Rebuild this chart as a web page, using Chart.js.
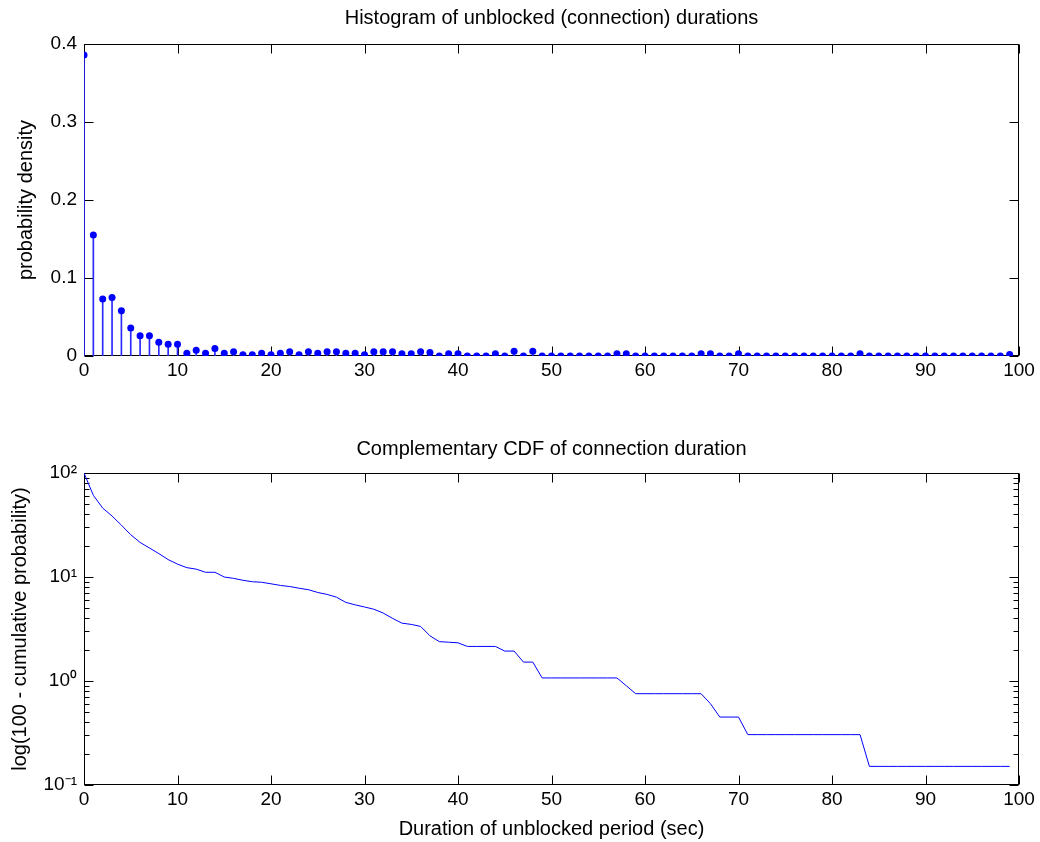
<!DOCTYPE html>
<html>
<head>
<meta charset="utf-8">
<title>Unblocked durations</title>
<script src="https://cdn.jsdelivr.net/npm/chart.js@4.4.0/dist/chart.umd.min.js"></script>
<style>
  body { margin: 0; background: #fff; }
  #wrap { position: relative; width: 1040px; height: 842px; }
  #histChart { position: absolute; left: 0; top: 0; }
  #ccdfChart { position: absolute; left: 0; top: 420px; }
</style>
</head>
<body>
<div id="wrap">
  <canvas id="histChart" width="1040" height="420"></canvas>
  <canvas id="ccdfChart" width="1040" height="422"></canvas>
</div>
<script>
// duration bins (sec)
const durations = [
  0, 1, 2, 3, 4, 5, 6, 7, 8, 9, 10, 11, 12, 13, 14, 15, 16, 17, 18, 19,
  20, 21, 22, 23, 24, 25, 26, 27, 28, 29, 30, 31, 32, 33, 34, 35, 36, 37, 38, 39,
  40, 41, 42, 43, 44, 45, 46, 47, 48, 49, 50, 51, 52, 53, 54, 55, 56, 57, 58, 59,
  60, 61, 62, 63, 64, 65, 66, 67, 68, 69, 70, 71, 72, 73, 74, 75, 76, 77, 78, 79,
  80, 81, 82, 83, 84, 85, 86, 87, 88, 89, 90, 91, 92, 93, 94, 95, 96, 97, 98, 99
];

// probability density per bin
const density = [
  0.386, 0.155, 0.073, 0.075, 0.058, 0.036, 0.026, 0.026, 0.0175, 0.015,
  0.015, 0.0035, 0.0075, 0.0035, 0.0095, 0.0035, 0.0055, 0.0015, 0.0015, 0.0035,
  0.0015, 0.0035, 0.0055, 0.0015, 0.0055, 0.0035, 0.0055, 0.0055, 0.0035, 0.0035,
  0.0015, 0.0055, 0.0055, 0.0055, 0.003, 0.003, 0.0055, 0.0045, 0, 0.003,
  0.003, 0, 0, 0, 0.003, 0, 0.006, 0, 0.006, 0,
  0, 0, 0, 0, 0, 0, 0, 0.003, 0.003, 0,
  0, 0, 0, 0, 0, 0, 0.003, 0.003, 0, 0,
  0.003, 0, 0, 0, 0, 0, 0, 0, 0, 0,
  0, 0, 0, 0.003, 0, 0, 0, 0, 0, 0,
  0, 0, 0, 0, 0, 0, 0, 0, 0, 0.002
];

// 100 - cumulative probability (%)
const ccdf = [
  100, 61, 46, 38.6, 31.5, 25.5, 21.5, 19, 16.8, 14.7,
  13.3, 12.3, 11.9, 11.1, 11.1, 10, 9.7, 9.3, 9.0, 8.9,
  8.6, 8.3, 8.1, 7.8, 7.55, 7.1, 6.8, 6.4, 5.7, 5.4,
  5.15, 4.9, 4.5, 4.0, 3.6, 3.5, 3.35, 2.72, 2.39, 2.36,
  2.33, 2.15, 2.15, 2.15, 2.15, 1.94, 1.94, 1.52, 1.52, 1.07,
  1.07, 1.07, 1.07, 1.07, 1.07, 1.07, 1.07, 1.07, 0.9, 0.755,
  0.755, 0.755, 0.755, 0.755, 0.755, 0.755, 0.755, 0.605, 0.45, 0.45,
  0.45, 0.305, 0.305, 0.305, 0.305, 0.305, 0.305, 0.305, 0.305, 0.305,
  0.305, 0.305, 0.305, 0.305, 0.151, 0.151, 0.151, 0.151, 0.151, 0.151,
  0.151, 0.151, 0.151, 0.151, 0.151, 0.151, 0.151, 0.151, 0.151, 0.151
];

const xTicks = [0, 10, 20, 30, 40, 50, 60, 70, 80, 90, 100];
const histYTicks = [0, 0.1, 0.2, 0.3, 0.4];
const logMajor = [0.1, 1, 10, 100];
const logMinor = [0.2, 0.3, 0.4, 0.5, 0.6, 0.7, 0.8, 0.9, 2, 3, 4, 5, 6, 7, 8, 9, 20, 30, 40, 50, 60, 70, 80, 90];
const logLabels = { 0.1: '10\u207B\u00B9', 1: '10\u2070', 10: '10\u00B9', 100: '10\u00B2' };

Chart.defaults.font.family = '"Liberation Sans", Arial, sans-serif';
Chart.defaults.color = '#000';

// matlab-like box with inward ticks
const matlabBox = {
  id: 'matlabBox',
  beforeDatasetsDraw(chart) {
    const { ctx, chartArea: a, scales } = chart;
    const L = Math.round(a.left) + 0.5, R = Math.round(a.right) - 0.5;
    const T = Math.round(a.top) + 0.5, B = Math.round(a.bottom) - 0.5;
    ctx.save();
    ctx.strokeStyle = '#000';
    ctx.lineWidth = 1;
    ctx.strokeRect(L, T, R - L, B - T);
    ctx.beginPath();
    xTicks.forEach(v => {
      const x = Math.round(scales.x.getPixelForValue(v)) + 0.5;
      ctx.moveTo(x, B); ctx.lineTo(x, B - 9);
      ctx.moveTo(x, T); ctx.lineTo(x, T + 9);
    });
    const yMajor = scales.y.type === 'logarithmic' ? logMajor : histYTicks;
    yMajor.forEach(v => {
      const y = Math.round(scales.y.getPixelForValue(v)) + 0.5;
      ctx.moveTo(L, y); ctx.lineTo(L + 9, y);
      ctx.moveTo(R, y); ctx.lineTo(R - 9, y);
    });
    if (scales.y.type === 'logarithmic') {
      logMinor.forEach(v => {
        const y = Math.round(scales.y.getPixelForValue(v)) + 0.5;
        ctx.moveTo(L, y); ctx.lineTo(L + 5, y);
        ctx.moveTo(R, y); ctx.lineTo(R - 5, y);
      });
    }
    ctx.stroke();
    ctx.restore();
  }
};

const stemPoints = durations.map((d, i) => ({ x: d, y: density[i] }));

new Chart(document.getElementById('histChart'), {
  type: 'bar',
  data: {
    datasets: [
      {
        type: 'scatter',
        data: stemPoints,
        backgroundColor: '#0000ff',
        borderColor: '#0000ff',
        pointRadius: 3.5,
        borderWidth: 0,
        order: 0
      },
      {
        type: 'bar',
        data: stemPoints,
        backgroundColor: '#2828ff',
        barThickness: 1,
        order: 1
      }
    ]
  },
  options: {
    responsive: false,
    animation: false,
    devicePixelRatio: 1,
    layout: { padding: { left: 0, right: 21, top: 0, bottom: 0 } },
    plugins: {
      legend: { display: false },
      tooltip: { enabled: false },
      title: {
        display: true,
        text: 'Histogram of unblocked (connection) durations',
        fullSize: false,
        font: { size: 20, weight: 'normal' },
        color: '#000',
        padding: { top: 6, bottom: 14 }
      }
    },
    scales: {
      x: {
        type: 'linear',
        min: 0,
        max: 100,
        offset: false,
        grid: { display: false, drawTicks: false },
        border: { display: false },
        ticks: { stepSize: 10, font: { size: 19 }, padding: 3, maxRotation: 0 },
        afterFit(scale) { scale.height = 64; }
      },
      y: {
        min: 0,
        max: 0.4,
        grid: { display: false, drawTicks: false },
        border: { display: false },
        ticks: {
          stepSize: 0.1,
          font: { size: 19 },
          padding: 7,
          callback: v => (v === 0 ? '0' : v.toFixed(1))
        },
        title: {
          display: true,
          text: 'probability density',
          font: { size: 20 },
          padding: { top: 14, bottom: 0 }
        },
        afterFit(scale) { scale.width = 84; }
      }
    }
  },
  plugins: [matlabBox]
});

new Chart(document.getElementById('ccdfChart'), {
  type: 'line',
  data: {
    datasets: [{
      data: durations.map((d, i) => ({ x: d, y: ccdf[i] })),
      borderColor: '#0000ff',
      borderWidth: 1,
      pointRadius: 0,
      tension: 0,
      fill: false
    }]
  },
  options: {
    responsive: false,
    animation: false,
    devicePixelRatio: 1,
    layout: { padding: { left: 0, right: 21, top: 0, bottom: 0 } },
    plugins: {
      legend: { display: false },
      tooltip: { enabled: false },
      title: {
        display: true,
        text: 'Complementary CDF of connection duration',
        fullSize: false,
        font: { size: 20, weight: 'normal' },
        color: '#000',
        padding: { top: 17, bottom: 12 }
      }
    },
    scales: {
      x: {
        type: 'linear',
        min: 0,
        max: 100,
        grid: { display: false, drawTicks: false },
        border: { display: false },
        ticks: { stepSize: 10, font: { size: 19 }, padding: 3, maxRotation: 0 },
        title: {
          display: true,
          text: 'Duration of unblocked period (sec)',
          font: { size: 20 },
          padding: { top: 0, bottom: 1 }
        },
        afterFit(scale) { scale.height = 57; }
      },
      y: {
        type: 'logarithmic',
        min: 0.1,
        max: 100,
        grid: { display: false, drawTicks: false },
        border: { display: false },
        afterBuildTicks(scale) { scale.ticks = logMajor.map(v => ({ value: v })); },
        ticks: {
          font: { size: 19 },
          padding: 7,
          callback: v => logLabels[v] || ''
        },
        title: {
          display: true,
          text: 'log(100 - cumulative probability)',
          font: { size: 20 },
          padding: { top: 8, bottom: 0 }
        },
        afterFit(scale) { scale.width = 84; }
      }
    }
  },
  plugins: [matlabBox]
});
</script>
</body>
</html>
